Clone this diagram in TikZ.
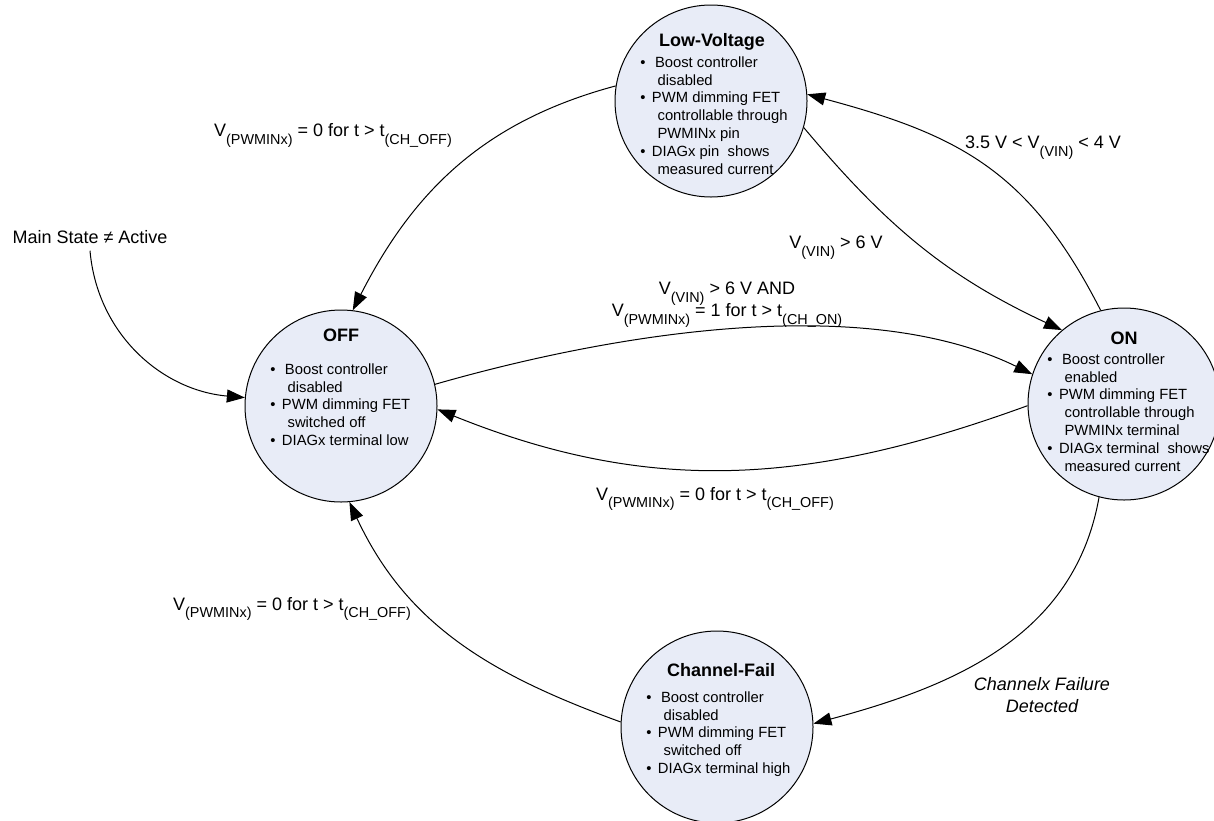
\documentclass[tikz,border=0pt]{standalone}
\usepackage{fontspec}
\setmainfont{Liberation Sans}
\usepackage{xcolor}
\usetikzlibrary{positioning,arrows.meta}

\definecolor{state-fill}{RGB}{232,236,247}
\newcommand{\sbs}[1]{\raisebox{-3.8pt}[0pt][0pt]{\fontsize{7.2}{8}\selectfont #1}}
\newcommand{\pbul}{\makebox[7.3pt][l]{\textbullet}}
\newcommand{\pbulx}{\makebox[5.8pt][l]{\textbullet}}
\newcommand{\pind}{\hspace*{8.6pt}}

\begin{document}
\begin{tikzpicture}
[
x=0.5pt, y=-0.5pt,
state-a/.style={circle, draw, fill=state-fill, line width=0.5pt, minimum size=96pt, inner sep=0pt},
head-a/.style={font=\fontsize{9}{11}\selectfont\bfseries, anchor=base, inner sep=0pt},
body-a/.style={font=\fontsize{7.4}{8.9}\selectfont, anchor=base west, inner sep=0pt},
text-a/.style={font=\fontsize{9}{11}\selectfont, anchor=base},
edge-a/.style={line width=0.5pt, -{Triangle[length=9pt,width=6.5pt]}}
]
\useasboundingbox (0,0) rectangle (1214,820);

% states
\node (lv)  [state-a] at (711,101)  {};
\node (off) [state-a] at (341,406)  {};
\node (on)  [state-a] at (1124,404) {};
\node (cf)  [state-a] at (717,727)  {};

\node (lv-head)  [head-a] at ([xshift=0.5pt, yshift=27.3pt]lv.center)  {Low-Voltage};
\node (lv-body)  [body-a] at ([xshift=-35.5pt, yshift=16.9pt]lv.center) {\begin{tabular}[t]{@{}l@{}}
\pbul Boost controller\\ \pind disabled\\
\pbulx PWM dimming FET\\ \pind controllable through\\ \pind PWMINx pin\\
\pbulx DIAGx pin\ \ shows\\ \pind measured current\end{tabular}};

\node (off-head) [head-a] at ([yshift=32.3pt]off.center) {OFF};
\node (off-body) [body-a] at ([xshift=-35.5pt, yshift=15.9pt]off.center) {\begin{tabular}[t]{@{}l@{}}
\pbul Boost controller\\ \pind disabled\\
\pbulx PWM dimming FET\\ \pind switched off\\
\pbulx DIAGx terminal low\end{tabular}};

\node (on-head)  [head-a] at ([yshift=29.8pt]on.center) {ON};
\node (on-body)  [body-a] at ([xshift=-38.5pt, yshift=19.9pt]on.center) {\begin{tabular}[t]{@{}l@{}}
\pbul Boost controller\\ \pind enabled\\
\pbulx PWM dimming FET\\ \pind controllable through\\ \pind PWMINx terminal\\
\pbulx DIAGx terminal\ \ shows\\ \pind measured current\end{tabular}};

\node (cf-head)  [head-a] at ([xshift=2pt, yshift=25.3pt]cf.center) {Channel-Fail};
\node (cf-body)  [body-a] at ([xshift=-35.5pt, yshift=12.4pt]cf.center) {\begin{tabular}[t]{@{}l@{}}
\pbul Boost controller\\ \pind disabled\\
\pbulx PWM dimming FET\\ \pind switched off\\
\pbulx DIAGx terminal high\end{tabular}};

% conditions
\node (main)      [text-a] at (90,243.5)   {Main State ≠ Active};
\node (lbl-lv-off)[text-a] at (333,136.5)  {V\sbs{(PWMINx)} = 0 for t > t\sbs{(CH\_OFF)}};
\node (lbl-on-lv) [text-a] at (1043,148.5) {3.5 V < V\sbs{(VIN)} < 4 V};
\node (lbl-lv-on) [text-a] at (836,248.5)  {V\sbs{(VIN)} > 6 V};
\node (lbl-off-on)[text-a] at (727,294.5)  {\begin{tabular}[t]{@{}c@{}}V\sbs{(VIN)} > 6 V AND\\
V\sbs{(PWMINx)} = 1 for t > t\sbs{(CH\_ON)}\end{tabular}};
\node (lbl-on-off)[text-a] at (715,500)    {V\sbs{(PWMINx)} = 0 for t > t\sbs{(CH\_OFF)}};
\node (lbl-cf-off)[text-a] at (292,610)    {V\sbs{(PWMINx)} = 0 for t > t\sbs{(CH\_OFF)}};
\node (lbl-on-cf) [text-a, font=\fontsize{9}{11}\selectfont\itshape] at (1042,690) {\begin{tabular}[t]{@{}c@{}}Channelx Failure\\ Detected\end{tabular}};

% transitions
\draw [edge-a] (main.south) to [out=-85, in=175] (off.175);
\draw [edge-a] (lv.171) to [out=195, in=63] (off.83);
\draw [edge-a] (lv.-16) to [out=-50, in=155] (on.130);
\draw [edge-a] (on.104) to [out=117, in=-15, looseness=1.1] (lv.4);
\draw [edge-a] (off.13) to [out=16, in=154, looseness=0.8] (on.162);
\draw [edge-a] (on.181) to [out=200, in=-22] (off.-2);
\draw [edge-a] (on.-105) to [out=-100, in=15] (cf.2);
\draw [edge-a] (cf.177) to [out=160, in=-65] (off.-85);
\end{tikzpicture}
\end{document}
